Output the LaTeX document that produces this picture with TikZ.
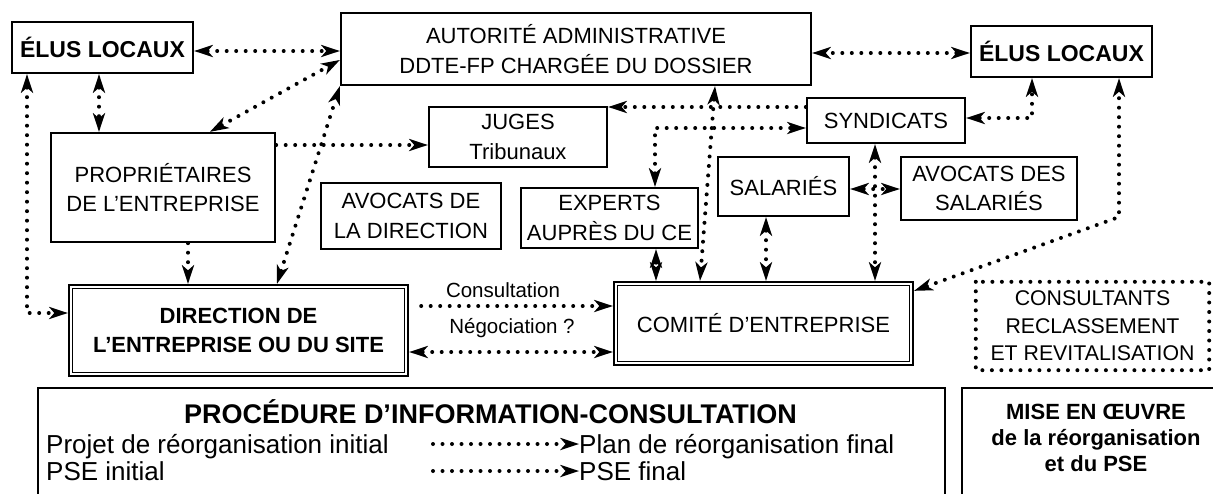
\documentclass[tikz,border=0pt]{standalone}
\usepackage{fontspec}
\setmainfont{Liberation Sans}
\usetikzlibrary{positioning,arrows.meta}

\newcommand{\bigtxt}{\fontsize{22}{29.5}\selectfont}
\newcommand{\lbltxt}{\fontsize{20.5}{24}\selectfont}
\newcommand{\legtxt}{\fontsize{26}{30}\selectfont}
\tikzset{
  box/.style={draw, line width=2.4pt, align=center, inner sep=0pt},
  link/.style={line width=4pt, line cap=round, dash pattern=on 0pt off 9.5pt},
  inframe/.style={line width=0.9pt},
}

\begin{document}
\begin{tikzpicture}[x=1pt, y=-1pt, >={Stealth[length=19pt,width=12.5pt,inset=5.5pt,line width=0pt]},
  every node/.style={font=\bigtxt, inner sep=0pt}]
\useasboundingbox (0,0) rectangle (1213,493);
\clip (0,0) rectangle (1213,493);

% top row
\node[box, font=\fontsize{23}{29}\selectfont\bfseries, minimum width=181pt, minimum height=51pt] (elusL) at (102.5,47.5) {ÉLUS LOCAUX};
\node[box, minimum width=470pt, minimum height=72pt] (autorite) at (576,49) {AUTORITÉ ADMINISTRATIVE\\DDTE-FP CHARGÉE DU DOSSIER};
\node[box, font=\fontsize{23}{29}\selectfont\bfseries, minimum width=181pt, minimum height=51pt] (elusR) at (1061.5,51.5) {ÉLUS LOCAUX};

% middle
\node[box, minimum width=224pt, minimum height=109pt] (proprio) at (163,187.5) {PROPRIÉTAIRES\\DE L’ENTREPRISE};
\node[box, minimum width=178pt, minimum height=60pt] (juges) at (518,137) {JUGES\\Tribunaux};
\node[box, minimum width=158pt, minimum height=45pt] (syndicats) at (886,120.5) {SYNDICATS};
\node[box, minimum width=180pt, minimum height=66pt] (avocatsDir) at (411,216) {AVOCATS DE\\LA DIRECTION};
\node[box, minimum width=177pt, minimum height=60pt] (experts) at (609.5,218) {EXPERTS\\AUPRÈS DU CE};
\node[box, minimum width=131pt, minimum height=59pt] (salaries) at (783.5,186.5) {SALARIÉS};
\node[box, minimum width=176pt, minimum height=63pt] (avocatsSal) at (989,188.5) {AVOCATS DES\\SALARIÉS};

% CE / direction
\node[box, font=\bigtxt\bfseries, minimum width=339pt, minimum height=91pt] (direction) at (238.5,330.5) {DIRECTION DE\\L’ENTREPRISE OU DU SITE};
\draw[inframe] ([shift={(4.5pt,4.5pt)}]direction.south west) rectangle ([shift={(-4.5pt,-4.5pt)}]direction.north east);
\node[box, minimum width=299pt, minimum height=83pt] (comite) at (763.5,323.5) {COMITÉ D’ENTREPRISE};
\draw[inframe] ([shift={(4.5pt,4.5pt)}]comite.south west) rectangle ([shift={(-4.5pt,-4.5pt)}]comite.north east);
\node[minimum width=233pt, minimum height=88pt, align=center, font=\fontsize{21.3}{27.5}\selectfont] (consult) at (1092.5,326) {CONSULTANTS\\RECLASSEMENT\\ET REVITALISATION};
\draw[link] (consult.north west) rectangle (consult.south east);

% bottom frames
\node[draw, line width=2.4pt, minimum width=907pt, minimum height=160pt, anchor=north west] (procFrame) at (37,387) {};
\node[draw, line width=2.4pt, minimum width=300pt, minimum height=160pt, anchor=north west] (miseFrame) at (961,387) {};
\node[font=\fontsize{27}{30}\selectfont\bfseries] (procTitle) at (490.5,412) {PROCÉDURE D’INFORMATION-CONSULTATION};
\node[anchor=base west, font=\legtxt] (projet) at (46,453) {Projet de réorganisation initial};
\node[anchor=base west, font=\legtxt] (pseI) at (46,480) {PSE initial};
\node[anchor=base west, font=\legtxt] (plan) at (579,453) {Plan de réorganisation final};
\node[anchor=base west, font=\legtxt] (pseF) at (579,480) {PSE final};
\node[font=\fontsize{22}{26}\selectfont\bfseries, align=center] (mise) at (1096,438) {MISE EN ŒUVRE\\de la réorganisation\\et du PSE};

% labels
\node[font=\lbltxt] (consLbl) at (503,290) {Consultation};
\node[font=\lbltxt] (negoLbl) at (512,328) {Négociation ?};

% connectors
\draw[link, <->] ([yshift=-3.5pt]elusL.east) -- ([yshift=-3.5pt]elusL.east -| autorite.west);
\draw[link, <->] ([yshift=-1.5pt]elusR.west) -- ([yshift=-1.5pt]elusR.west -| autorite.east);
\draw[link, <->] ([xshift=-3.5pt]elusL.south) -- ([xshift=-3.5pt]elusL.south |- proprio.north);
\draw[link, <->] ([xshift=47pt]proprio.north) -- ([yshift=-11pt]autorite.west);
\draw[link, <->] ([xshift=-75.5pt]elusL.south) |- ([yshift=17.5pt]direction.west);
\draw[link, ->] ([yshift=42.5pt]proprio.east) -- ([yshift=42.5pt]proprio.east -| juges.west);
\draw[link, <->] ([xshift=38.5pt]direction.north) -- (autorite.south west);
\draw[link, ->] ([xshift=25pt]proprio.south) -- ([xshift=25pt]proprio.south |- direction.north);
\draw[link, ->] ([yshift=13.5pt]syndicats.west) -- ([yshift=13.5pt]syndicats.west -| juges.east);
\draw[link, <->] ([xshift=45.5pt]experts.north) |- ([yshift=-7.5pt]syndicats.west);
\draw[link, <->] ([xshift=139pt]autorite.south) -- ([xshift=-63.5pt]comite.north);
\draw[link, <->] ([xshift=46.5pt]experts.south) -- ([xshift=46.5pt]experts.south |- comite.north);
\draw[link, <->] ([xshift=-17.5pt]salaries.south) -- ([xshift=-17.5pt]salaries.south |- comite.north);
\draw[link, <->] ([xshift=-11pt]syndicats.south) -- ([xshift=-11pt]syndicats.south |- comite.north);
\draw[link, <->] ([yshift=-2.5pt]salaries.east) -- ([yshift=-2.5pt]salaries.east -| avocatsSal.west);
\draw[link, <->] ([yshift=2.5pt]syndicats.east) -| ([xshift=-29.5pt]elusR.south);
\coordinate (bendR) at (1119,217);
\draw[link, <->] ([yshift=-10pt]comite.north east) -- (bendR) -- ([xshift=57.5pt]elusR.south);
\draw[link, ->, shorten <=12pt] ([yshift=24.5pt]direction.east) -- ([yshift=24.5pt]direction.east -| comite.west);
\draw[link, <->] ([yshift=-21.5pt]direction.east) -- ([yshift=-21.5pt]direction.east -| comite.west);

% legend
\draw[link, ->] ([shift={(-146pt,9pt)}]plan.base west) -- ([yshift=9pt]plan.base west);
\draw[link, ->] ([shift={(-146pt,9pt)}]pseF.base west) -- ([yshift=9pt]pseF.base west);
\end{tikzpicture}
\end{document}
